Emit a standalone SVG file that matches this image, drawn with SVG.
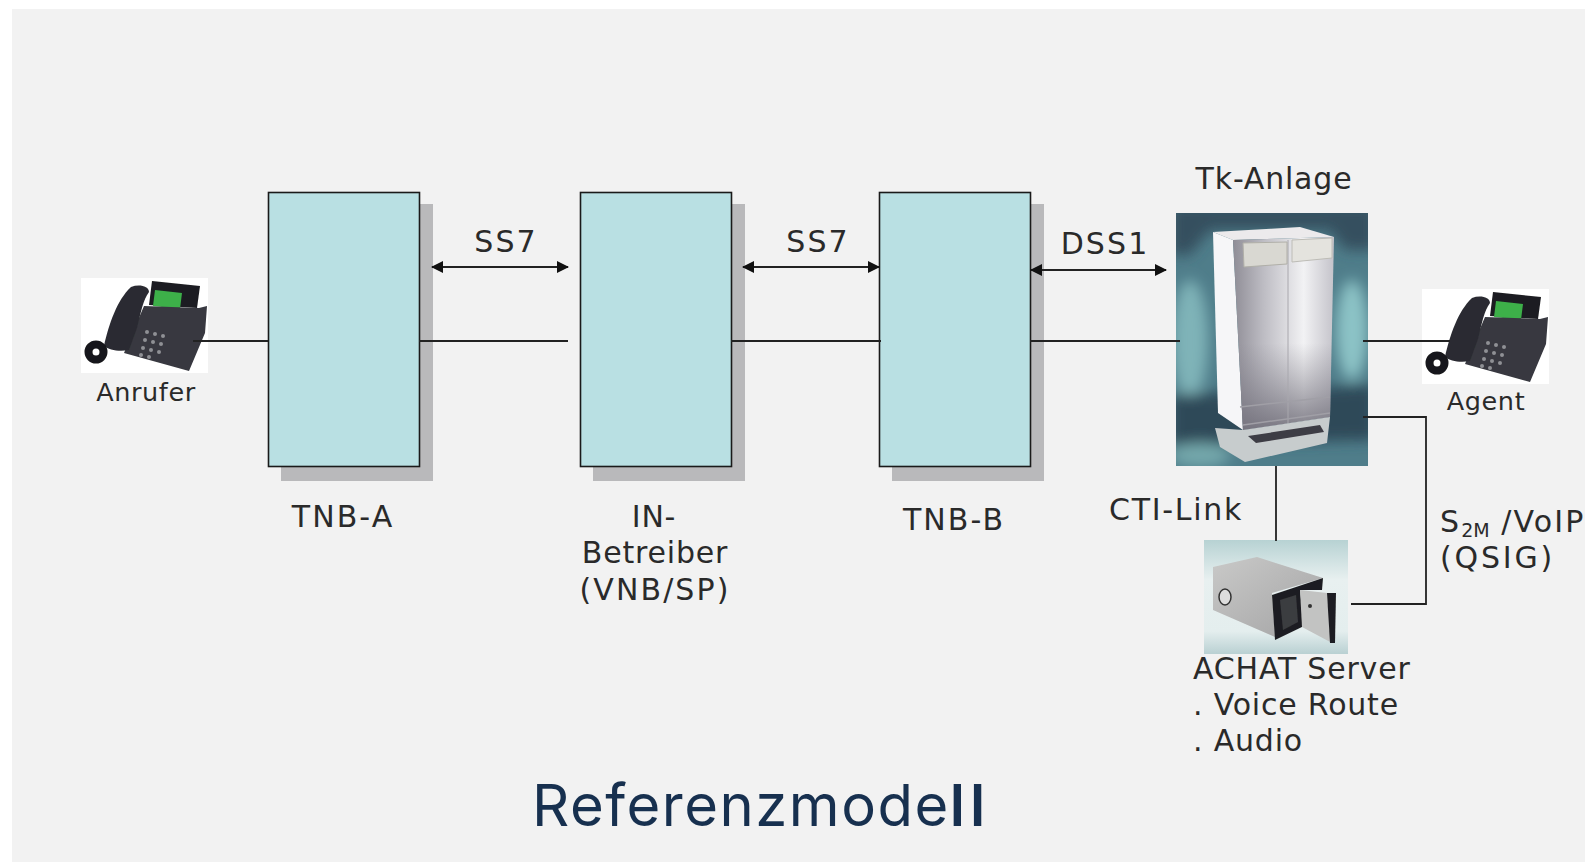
<svg xmlns="http://www.w3.org/2000/svg" width="1585" height="862" viewBox="0 0 1585 862">
<style>
.lbl{font-family:"DejaVu Sans",Verdana,sans-serif;font-size:30px;fill:#2a2a2a;letter-spacing:.8px}
.w{letter-spacing:2.1px}
.sm{font-size:25.5px;letter-spacing:.6px}
.box{fill:#b9e0e3;stroke:#1a1a1a;stroke-width:1.600}
.shadow{fill:#b9b9bb}
.ln{fill:none;stroke:#222;stroke-width:1.800}
.title{font-family:"Inter","Open Sans",sans-serif;font-size:58px;fill:#17304f;letter-spacing:1.500px}
</style>
<defs>
<marker id="ah" viewBox="0 0 12 12" refX="11" refY="6" markerWidth="12" markerHeight="12" markerUnits="userSpaceOnUse" orient="auto-start-reverse"><path d="M0 0L12 6L0 12z" fill="#111"/></marker>
<filter id="soft" x="-5%" y="-5%" width="110%" height="110%"><feGaussianBlur stdDeviation="0.7"/></filter>
<filter id="softer" x="-10%" y="-10%" width="120%" height="120%"><feGaussianBlur stdDeviation="7"/></filter>
<linearGradient id="tfront" x1="0" y1="0" x2="1" y2="0"><stop offset="0" stop-color="#8f8d96"/><stop offset="0.3" stop-color="#bdbcc3"/><stop offset="0.7" stop-color="#f2f2f4"/><stop offset="1" stop-color="#c4c3ca"/></linearGradient>
<linearGradient id="tfade" x1="0" y1="0" x2="0" y2="1"><stop offset="0.55" stop-color="#807e88" stop-opacity="0"/><stop offset="1" stop-color="#716f7a" stop-opacity="0.9"/></linearGradient>
<linearGradient id="sbg" x1="0" y1="0" x2="0" y2="1"><stop offset="0" stop-color="#b7d2d3"/><stop offset="0.35" stop-color="#e8f0f0"/><stop offset="0.8" stop-color="#e4eeee"/><stop offset="1" stop-color="#b9d0d2"/></linearGradient>
<linearGradient id="sbody" x1="0" y1="0" x2="1" y2="1"><stop offset="0" stop-color="#c9c9c8"/><stop offset="1" stop-color="#a3a3a4"/></linearGradient>
<symbol id="phone" viewBox="0 0 127 95" width="127" height="95">
<rect width="127" height="95" fill="#fff"/>
<g filter="url(#soft)">
<path d="M71 3L119 8L116 30L68 27z" fill="#1c1c20"/>
<path d="M74 12L101 15L99 31L72 28z" fill="#3cb04a"/>
<path d="M63 28L118 30L126 28L124 55L108 93L43 75z" fill="#37383f"/>
<path d="M50 9C58 6 68 8 68 14C62 22 60 34 56 50L48 72C38 74 28 72 23 68C28 46 36 22 50 9z" fill="#2b2c32"/>
<circle cx="15" cy="74" r="7.500" fill="none" stroke="#17171a" stroke-width="8"/>
<g fill="#8f9095"><circle cx="66" cy="54" r="2"/><circle cx="74" cy="56" r="2"/><circle cx="82" cy="58" r="2"/><circle cx="64" cy="62" r="2"/><circle cx="72" cy="64" r="2"/><circle cx="80" cy="66" r="2"/><circle cx="62" cy="70" r="2"/><circle cx="70" cy="72" r="2"/><circle cx="78" cy="74" r="2"/><circle cx="60" cy="77" r="2"/><circle cx="68" cy="79" r="2"/></g>
</g>
</symbol>
<clipPath id="tclip"><rect x="1176" y="213" width="192" height="253"/></clipPath>
</defs>
<rect width="1585" height="862" fill="#fff"/>
<rect x="12" y="9" width="1573" height="853" fill="#f2f2f2"/>

<g id="anrufer"><use href="#phone" x="81" y="278"/><text class="lbl sm" x="146" y="401" text-anchor="middle">Anrufer</text></g>

<g id="tnb-a"><rect class="shadow" x="281" y="204" width="152" height="277"/><rect class="box" x="268.500" y="192.500" width="151" height="274"/><text class="lbl w" x="343" y="527" text-anchor="middle">TNB-A</text></g>
<g id="in-betreiber"><rect class="shadow" x="593" y="204" width="152" height="277"/><rect class="box" x="580.500" y="192.500" width="151" height="274"/><text class="lbl" x="654" y="527" text-anchor="middle">IN-</text><text class="lbl" x="655" y="563" text-anchor="middle">Betreiber</text><text class="lbl w" x="655" y="600" text-anchor="middle">(VNB/SP)</text></g>
<g id="tnb-b"><rect class="shadow" x="892" y="204" width="152" height="277"/><rect class="box" x="879.500" y="192.500" width="151" height="274"/><text class="lbl w" x="954" y="530" text-anchor="middle">TNB-B</text></g>

<g id="tk-anlage">
<text class="lbl" x="1274" y="189" text-anchor="middle">Tk-Anlage</text>
<rect x="1176" y="213" width="192" height="253" fill="#4f7d8a"/>
<g clip-path="url(#tclip)">
<g filter="url(#softer)">
<path d="M1170 205H1375V250H1345L1330 230H1210L1190 255H1170z" fill="#34505f"/>
<ellipse cx="1190" cy="340" rx="18" ry="60" fill="#7fb3b8"/>
<ellipse cx="1352" cy="330" rx="16" ry="50" fill="#8cc3c6"/>
<path d="M1170 395L1375 385V440L1170 445z" fill="#2e4a58"/>
<ellipse cx="1200" cy="455" rx="30" ry="12" fill="#74a8ac"/>
</g>
</g>
<g filter="url(#soft)">
<path d="M1213 232L1300 227L1334 237L1233 240z" fill="#eceaec"/>
<path d="M1213 232L1233 240L1243 430L1218 413z" fill="#f6f6f8"/>
<path d="M1233 240L1334 237L1330 417L1243 430z" fill="url(#tfront)"/>
<path d="M1233 240L1334 237L1330 417L1243 430z" fill="url(#tfade)"/>
<path d="M1288 240V426" stroke="#a8a7ad" stroke-width="1"/>
<path d="M1243 243L1287 242V264L1244 267z" fill="#d9d8d2" stroke="#b0afa8"/>
<path d="M1292 240L1332 238V258L1292 262z" fill="#e4e3de" stroke="#bdbcb6"/>
<path d="M1240 407L1330 397M1243 425L1330 413" stroke="#a09fa6" stroke-width="1.500"/>
<path d="M1215 428L1243 430L1330 417L1327 443L1245 462L1220 447z" fill="#c7cccd"/>
<path d="M1248 436L1320 425L1324 432L1256 443z" fill="#3e3c44"/>
</g>
</g>

<g id="agent"><use href="#phone" x="1422" y="289"/><text class="lbl sm" x="1486" y="410" text-anchor="middle">Agent</text></g>

<g id="achat-server">
<rect x="1204" y="540" width="144" height="114" fill="url(#sbg)"/>
<g filter="url(#soft)">
<path d="M1213 567L1257 557L1323 578L1272 593L1275 637L1213 610z" fill="url(#sbody)"/>
<path d="M1272 595L1323 578L1322 590L1300 590L1304 626L1275 640z" fill="#1e1f22"/>
<path d="M1280 600L1296 595L1298 622L1283 630z" fill="#3b3c40"/>
<path d="M1300 590L1327 593L1332 643L1302 627z" fill="#c2c3c2"/>
<path d="M1327 593L1336 593L1335 643L1330 643z" fill="#1e1f22"/>
<circle cx="1310" cy="606" r="2" fill="#333"/>
<ellipse cx="1225" cy="597" rx="6" ry="8" fill="#dcdcdc" stroke="#333" stroke-width="1.500"/>
</g>
<text class="lbl" x="1193" y="679">ACHAT Server</text>
<text class="lbl" x="1193" y="715">. Voice Route</text>
<text class="lbl" x="1193" y="751">. Audio</text>
</g>

<g id="connectors">
<path class="ln" d="M193 341H268"/>
<path class="ln" d="M419 341H568"/>
<path class="ln" d="M731 341H881"/>
<path class="ln" d="M1030 341H1180"/>
<path class="ln" d="M1363 341H1450"/>
<path class="ln" d="M1363 417H1426V604H1351"/>
<path class="ln" d="M1276 466V541"/>
<path class="ln" d="M432 267H568" marker-start="url(#ah)" marker-end="url(#ah)"/>
<path class="ln" d="M743 267H879" marker-start="url(#ah)" marker-end="url(#ah)"/>
<path class="ln" d="M1031 270H1166" marker-start="url(#ah)" marker-end="url(#ah)"/>
</g>

<g id="labels">
<text class="lbl w" x="506" y="252" text-anchor="middle">SS7</text>
<text class="lbl w" x="818" y="252" text-anchor="middle">SS7</text>
<text class="lbl w" x="1105" y="254" text-anchor="middle">DSS1</text>
<text class="lbl" x="1109" y="520" style="letter-spacing:1.700px">CTI-Link</text>
<text class="lbl w" x="1440" y="532">S<tspan font-size="19" dy="5" letter-spacing="0">2M</tspan><tspan dy="-5"> /VoIP</tspan></text>
<text class="lbl" x="1440" y="568" style="letter-spacing:2.800px">(QSIG)</text>
</g>

<text class="title" x="532" y="826">Referenzmode<tspan font-weight="600" letter-spacing="5">ll</tspan></text>
</svg>
